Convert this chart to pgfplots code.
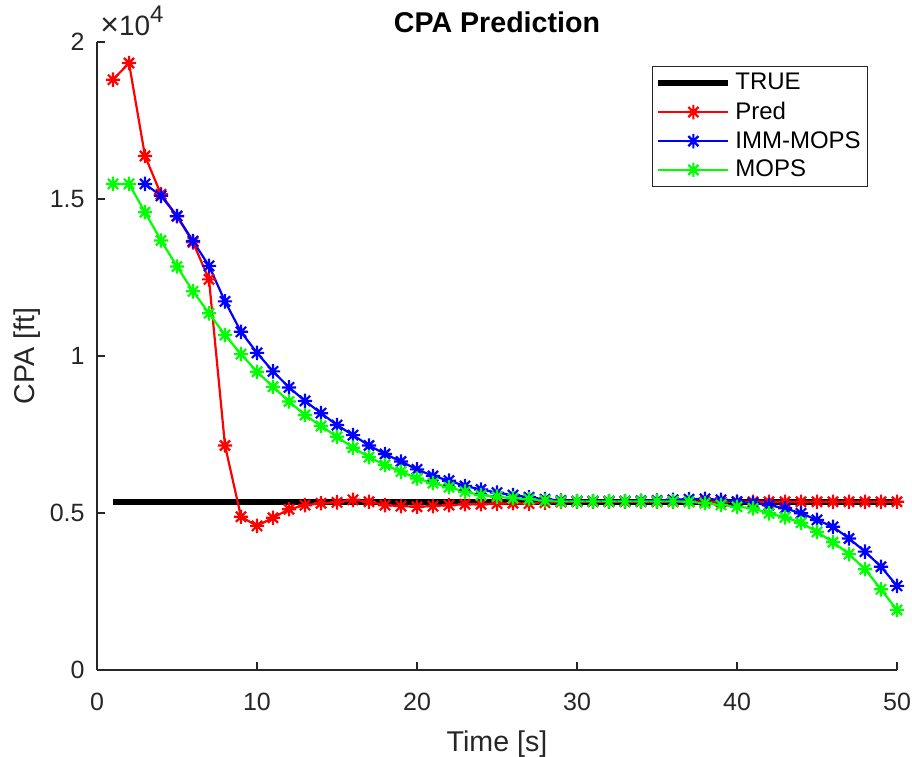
\documentclass[border=0pt]{standalone}
\usepackage{fontspec}
\setmainfont{Liberation Sans}
\usepackage{pgfplots}
\pgfplotsset{compat=1.18}

\definecolor{axgray}{HTML}{262626}

% MATLAB-like 8-arm asterisk
\pgfdeclareplotmark{ast8}{%
  \pgfpathmoveto{\pgfqpoint{-\pgfplotmarksize}{0pt}}\pgfpathlineto{\pgfqpoint{\pgfplotmarksize}{0pt}}%
  \pgfpathmoveto{\pgfqpoint{0pt}{-\pgfplotmarksize}}\pgfpathlineto{\pgfqpoint{0pt}{\pgfplotmarksize}}%
  \pgfpathmoveto{\pgfqpoint{-.7071\pgfplotmarksize}{-.7071\pgfplotmarksize}}\pgfpathlineto{\pgfqpoint{.7071\pgfplotmarksize}{.7071\pgfplotmarksize}}%
  \pgfpathmoveto{\pgfqpoint{-.7071\pgfplotmarksize}{.7071\pgfplotmarksize}}\pgfpathlineto{\pgfqpoint{.7071\pgfplotmarksize}{-.7071\pgfplotmarksize}}%
  \pgfusepathqstroke}

\begin{document}
\begin{tikzpicture}
\begin{axis}[
    width=400pt, height=314pt, scale only axis,
    xmin=0, xmax=50, ymin=0, ymax=20000,
    axis x line*=bottom, axis y line*=left,
    axis line style={axgray, line width=0.6pt},
    tick align=inside,
    major tick length=4pt,
    tick style={axgray, line width=0.6pt},
    xtick={0,10,...,50},
    ytick={0,5000,10000,15000,20000},
    yticklabels={0,0.5,1,1.5,2},
    scaled y ticks=false,
    /pgf/number format/assume math mode=true,
    ticklabel style={font=\fontsize{12.5}{14}\selectfont, text=axgray},
    xticklabel style={anchor=base, yshift=-20pt},
    yticklabel style={anchor=east, inner sep=2pt, xshift=-4pt},
    xlabel={Time [s]}, ylabel={CPA [ft]},
    label style={font=\fontsize{14.3}{16}\selectfont, text=axgray},
    xlabel style={at={(axis description cs:0.5,0)}, anchor=base, yshift=-40.5pt},
    ylabel style={at={(axis description cs:-0.078,0.5)}, anchor=base},
    title={\textbf{CPA Prediction}},
    every axis title shift=0pt,
    title style={at={(axis description cs:0.5,1)}, anchor=base, yshift=5pt,
        font=\fontsize{14.3}{16}\selectfont},
    legend style={at={(0.964,0.962)}, anchor=north east, draw=axgray,
        line width=0.5pt, font=\fontsize{12}{13}\selectfont,
        inner sep=1.5pt, row sep=0.5pt},
    legend cell align=left,
    legend image code/.code={%
        \draw[mark repeat=2, mark phase=2, #1] plot coordinates {(0pt,0pt)(17.5pt,0pt)(35pt,0pt)};},
    every axis plot/.append style={line width=1.1pt},
    every mark/.append style={line width=1.3pt},
    mark size=3.6pt,
    clip=false,
]
\coordinate (ll) at (rel axis cs:0,0);
\coordinate (ur) at (rel axis cs:1,1);

% TRUE
\addplot[black, line width=3pt, no marks] coordinates {(1,5360) (50,5360)};

% Pred
\addplot[red, mark=ast8] coordinates {
(1,18800) (2,19330) (3,16370) (4,15150) (5,14450) (6,13620) (7,12440) (8,7150)
(9,4880) (10,4590) (11,4850) (12,5120) (13,5250) (14,5310) (15,5340) (16,5420)
(17,5360) (18,5250) (19,5220) (20,5200) (21,5220) (22,5250) (23,5280) (24,5280)
(25,5300) (26,5310) (27,5300) (28,5330) (29,5350) (30,5360) (31,5360) (32,5360)
(33,5360) (34,5360) (35,5360) (36,5360) (37,5360) (38,5360) (39,5360) (40,5360)
(41,5360) (42,5360) (43,5360) (44,5360) (45,5360) (46,5360) (47,5360) (48,5360)
(49,5360) (50,5360)
};

% IMM-MOPS
\addplot[blue, mark=ast8] coordinates {
(3,15480) (4,15100) (5,14460) (6,13660) (7,12870) (8,11740) (9,10770) (10,10100)
(11,9510) (12,9000) (13,8570) (14,8180) (15,7800) (16,7480) (17,7150) (18,6880)
(19,6640) (20,6390) (21,6180) (22,6030) (23,5860) (24,5750) (25,5650) (26,5570)
(27,5500) (28,5440) (29,5400) (30,5380) (31,5380) (32,5380) (33,5380) (34,5390)
(35,5400) (36,5420) (37,5440) (38,5450) (39,5420) (40,5360) (41,5320) (42,5250)
(43,5150) (44,4990) (45,4780) (46,4560) (47,4190) (48,3770) (49,3290) (50,2680)
};

% MOPS
\addplot[green, mark=ast8] coordinates {
(1,15480) (2,15480) (3,14580) (4,13680) (5,12850) (6,12060) (7,11360) (8,10670)
(9,10060) (10,9500) (11,9020) (12,8550) (13,8120) (14,7770) (15,7430) (16,7080)
(17,6780) (18,6530) (19,6320) (20,6100) (21,5950) (22,5820) (23,5680) (24,5570)
(25,5520) (26,5470) (27,5440) (28,5400) (29,5370) (30,5370) (31,5370) (32,5370)
(33,5370) (34,5370) (35,5370) (36,5370) (37,5360) (38,5310) (39,5260) (40,5200)
(41,5150) (42,4990) (43,4860) (44,4690) (45,4400) (46,4070) (47,3690) (48,3210)
(49,2570) (50,1910)
};

\legend{TRUE, Pred, IMM-MOPS, MOPS}

\node[anchor=base west, inner sep=0pt, text=axgray, font=\fontsize{14}{15}\selectfont]
  at ([shift={(1.5pt,3.5pt)}]rel axis cs:0,1)
  {{\fontsize{16}{16}\selectfont ×}10\raisebox{0.45em}{\fontsize{12}{12}\selectfont 4}};
\end{axis}
\pgfresetboundingbox
\path ([shift={(-48.5pt,-43pt)}]ll) rectangle ([shift={(7.5pt,21pt)}]ur);
\end{tikzpicture}
\end{document}
